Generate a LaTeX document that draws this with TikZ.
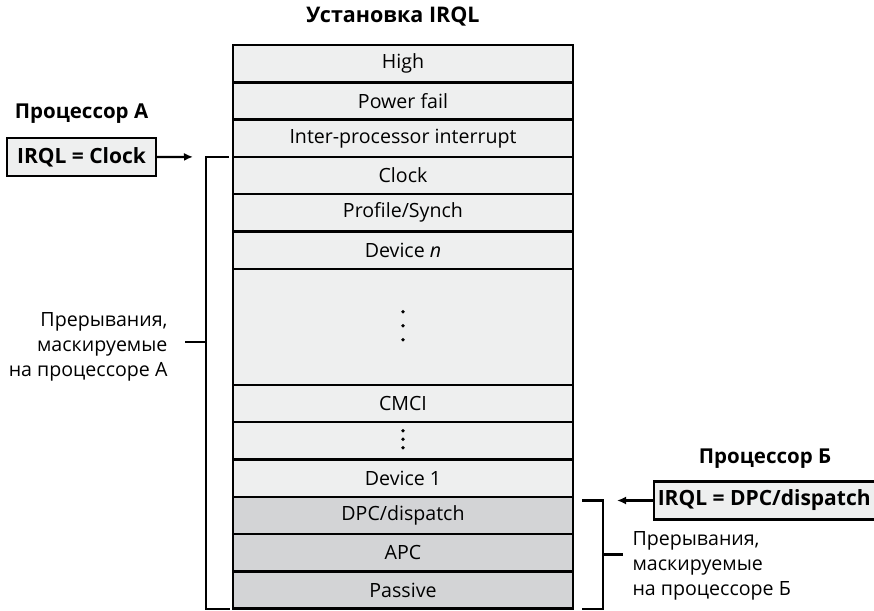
\documentclass[tikz,border=0pt]{standalone}
\usepackage{fontspec}
\setmainfont{Open Sans}
\usetikzlibrary{positioning,arrows.meta,calc}
\definecolor{lvllight}{RGB}{238,239,239}
\definecolor{lvldark}{RGB}{211,212,214}
\tikzstyle{level} = [draw, fill=lvllight, rectangle, line width=2.4pt,
    outer sep=0pt, inner sep=0pt, minimum width=340pt, minimum height=37.3pt]
\tikzstyle{slevel} = [level, fill=lvldark]
\tikzstyle{irql} = [draw, fill=lvllight, rectangle, line width=2.4pt,
    inner sep=0pt, minimum height=38pt, font=\fontsize{21}{25}\selectfont\bfseries]
\tikzstyle{bracket} = [line width=2.2pt]
\tikzstyle{head} = [font=\fontsize{20.5}{24}\selectfont\bfseries]

\begin{document}
\begin{tikzpicture}[x=1pt,y=-1pt,node distance=0pt,>={Latex[length=9pt,width=8pt]},
    font=\fontsize{19.6}{25}\selectfont]
\useasboundingbox (0,0) rectangle (874,610);

\node (title) [head,font=\fontsize{21.5}{25}\selectfont\bfseries] at (393,17) {Установка IRQL};

% IRQL levels, top to bottom
\node (high) [level] at (403,63.65) {High};
\node (pfail) [level,below=of high] {Power fail};
\node (ipi) [level,below=of pfail] {Inter-processor interrupt};
\node (clock) [level,below=of ipi] {Clock};
\node (profile) [level,below=of clock] {Profile/Synch};
\node (devn) [level,below=of profile] {Device \textit{n}};
\node (devdots) [level,below=of devn,minimum height=116pt] {};
\node (cmci) [level,below=of devdots] {CMCI};
\node (cmdots) [level,below=of cmci] {};
\node (dev1) [level,below=of cmdots] {Device 1};
\node (dpc) [slevel,below=of dev1] {DPC/dispatch};
\node (apc) [slevel,below=of dpc] {APC};
\node (passive) [slevel,below=of apc] {Passive};

\foreach \d in {-15,-1,13} \fill ($(devdots.center)+(0,\d)$) circle (1.9);
\foreach \d in {-10,-1.5,7} \fill ($(cmdots.center)+(0,\d)$) circle (1.9);

% processor A
\node (boxA) [irql,minimum width=149pt] at (81.5,157) {IRQL = Clock};
\node (procA) [head,above=10pt of boxA] {Процессор А};

\coordinate (brA top) at ($(clock.north west)+(-27,0)$);
\coordinate (brA bot) at ($(passive.south west)+(-27,0)$);
\coordinate (tickA) at ($(brA top)!0.41!(brA bot)$);
\draw[bracket] ($(clock.north west)+(-4,0)$) -- (brA top) -- (brA bot) -- ($(passive.south west)+(-3,0)$);
\draw[bracket] (tickA) -- ++(-21,0);
\node (lblA) [align=right,left=35pt of tickA,yshift=-5pt] {Прерывания,\\маскируемые\\на процессоре А};
\draw[bracket,->] (boxA.east) -- ($(brA top)+(-13,0)$);

% processor B
\node (boxB) [irql,minimum width=223pt,anchor=west] at (653,500.5) {\hspace*{-3pt}IRQL = DPC/dispatch};
\node (procB) [head] at (765,459) {Процессор Б};

\coordinate (brB top) at ($(boxB.west -| dpc.east)+(30,0)$);
\coordinate (brB bot) at ($(passive.south east)+(30,0)$);
\coordinate (tickB) at ($(brB top)!0.5!(brB bot)$);
\draw[bracket] ($(brB top)+(-21,0)$) -- (brB top) -- (brB bot) -- ($(brB bot)+(-21,0)$);
\draw[bracket] (tickB) -- ++(20,0);
\node (lblB) [align=left,anchor=west] at (629,566) {Прерывания,\\маскируемые\\на процессоре Б};
\draw[bracket,->] (boxB.west) -- ($(brB top)+(14,0)$);
\end{tikzpicture}
\end{document}
